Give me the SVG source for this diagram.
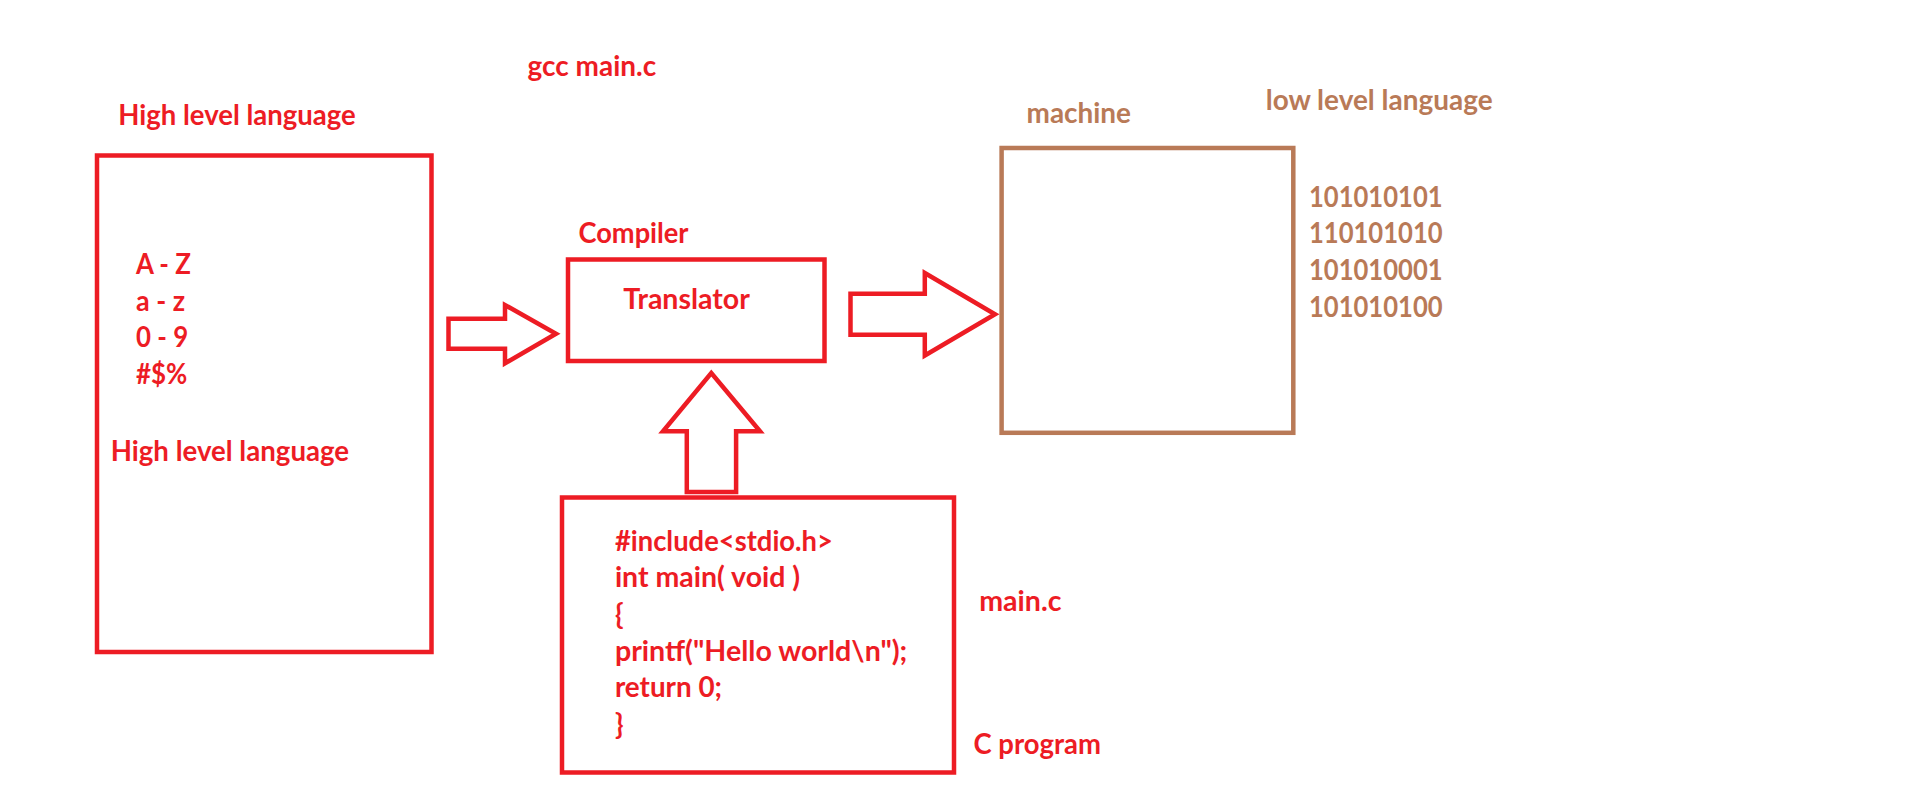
<svg xmlns="http://www.w3.org/2000/svg" width="1914" height="809" viewBox="0 0 1914 809">
<style>
  .red { fill: none; stroke: #ED1C24; stroke-width: 4.5; stroke-linejoin: miter; }
  .brn { fill: none; stroke: #B97A57; stroke-width: 4.5; }
  text { font-family: Lato, "Liberation Sans", sans-serif; font-weight: bold; font-size: 28px; }
  .tr { fill: #ED1C24; }
  .tb { fill: #B97A57; }
</style>
<rect width="1914" height="809" fill="#FFFFFF"/>
<g id="label-gcc"><text class="tr" x="527.6" y="76" textLength="128.6" lengthAdjust="spacingAndGlyphs">gcc main.c</text></g>
<g id="high-level">
  <text class="tr" x="118.3" y="125.3" textLength="237.5" lengthAdjust="spacingAndGlyphs">High level language</text>
  <rect class="red" x="97" y="155.5" width="334.5" height="496.5"/>
  <text class="tr" x="136" y="274" textLength="54.9" lengthAdjust="spacingAndGlyphs">A - Z</text>
  <text class="tr" x="136" y="310.5" textLength="49.1" lengthAdjust="spacingAndGlyphs">a - z</text>
  <text class="tr" x="136" y="347" textLength="52.2" lengthAdjust="spacingAndGlyphs">0 - 9</text>
  <text class="tr" x="136" y="383.5" textLength="51.3" lengthAdjust="spacingAndGlyphs">#$%</text>
  <text class="tr" x="110.7" y="461" textLength="238.4" lengthAdjust="spacingAndGlyphs">High level language</text>
</g>
<g id="compiler">
  <text class="tr" x="578.5" y="242.7" textLength="110" lengthAdjust="spacingAndGlyphs">Compiler</text>
  <rect class="red" x="568" y="259.5" width="256.5" height="101.5"/>
  <text class="tr" x="623.2" y="309.3" textLength="126.7" lengthAdjust="spacingAndGlyphs">Translator</text>
</g>
<g id="machine">
  <text class="tb" x="1026.5" y="123.3" textLength="104.5" lengthAdjust="spacingAndGlyphs">machine</text>
  <text class="tb" x="1265.7" y="110" textLength="227" lengthAdjust="spacingAndGlyphs">low level language</text>
  <rect class="brn" x="1001.6" y="148" width="291.7" height="284.8"/>
  <text class="tb" x="1309" y="206.7" textLength="133.6" lengthAdjust="spacingAndGlyphs">101010101</text>
  <text class="tb" x="1309" y="243.3" textLength="133.6" lengthAdjust="spacingAndGlyphs">110101010</text>
  <text class="tb" x="1309" y="280" textLength="133.6" lengthAdjust="spacingAndGlyphs">101010001</text>
  <text class="tb" x="1309" y="317.3" textLength="133.6" lengthAdjust="spacingAndGlyphs">101010100</text>
</g>
<g id="program">
  <rect class="red" x="562" y="497.5" width="392" height="275"/>
  <text class="tr" x="614.9" y="550.7" textLength="218" lengthAdjust="spacingAndGlyphs">#include&lt;stdio.h&gt;</text>
  <text class="tr" x="614.9" y="587.3" textLength="185.2" lengthAdjust="spacingAndGlyphs">int main( void )</text>
  <text class="tr" x="614.9" y="623.9">{</text>
  <text class="tr" x="614.9" y="660.5" textLength="292.4" lengthAdjust="spacingAndGlyphs">printf("Hello world\n");</text>
  <text class="tr" x="614.9" y="697.1" textLength="107.2" lengthAdjust="spacingAndGlyphs">return 0;</text>
  <text class="tr" x="614.9" y="733.7">}</text>
  <text class="tr" x="979.2" y="610.7" textLength="82.3" lengthAdjust="spacingAndGlyphs">main.c</text>
  <text class="tr" x="973.5" y="754" textLength="127.4" lengthAdjust="spacingAndGlyphs">C program</text>
</g>
<g id="connectors">
  <polygon class="red" points="448.5,318.7 505,318.7 505,305 556,333.7 505,363.3 505,348.7 448.5,348.7"/>
  <polygon class="red" points="850.5,293.7 924.8,293.7 924.8,273 995,314.2 924.8,355.5 924.8,334.7 850.5,334.7"/>
  <polygon class="red" points="686.8,492 686.8,431.3 663,431.3 711.3,373 760,431.3 736.1,431.3 736.1,492"/>
</g>
</svg>
